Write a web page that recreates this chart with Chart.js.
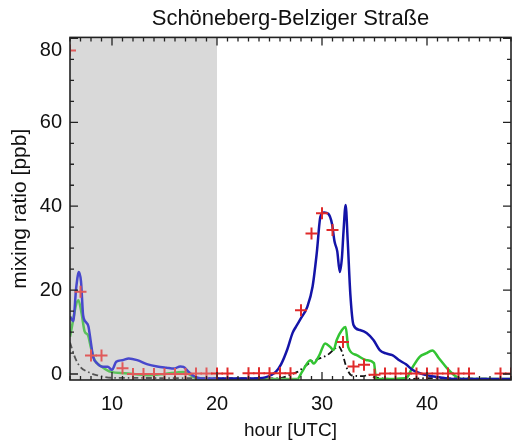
<!DOCTYPE html>
<html>
<head>
<meta charset="utf-8">
<script src="https://cdn.jsdelivr.net/npm/chart.js@4/dist/chart.umd.min.js"></script>
<style>
  body { margin: 0; background: #fff; }
</style>
</head>
<body>
<canvas id="mixingChart" width="519" height="448"></canvas>
<script>
// modelled mixing ratio, main run (blue)
const blueHours  = [6.0, 6.3, 6.6, 6.85, 7.05, 7.25, 7.5, 7.75, 8.0, 8.2, 8.6, 9.1, 9.6, 10.0, 10.4, 11.0, 11.6, 12.4, 13.4, 14.3, 15.2, 15.9, 16.5, 16.8, 17.3, 17.8, 18.5, 20, 22, 24, 24.6, 25.1, 25.6, 26.1, 26.7, 27.2, 27.5, 28.0, 28.6, 29.1, 29.5, 29.85, 30.2, 30.6, 30.95, 31.2, 31.45, 31.7, 31.9, 32.05, 32.25, 32.45, 32.7, 33.0, 33.6, 34.25, 34.9, 35.5, 36.1, 36.7, 37.4, 38.0, 38.6, 39.4, 40.2, 41.5, 42.5, 44, 46, 48];
const blueValues = [13.7, 12.6, 20.8, 24.3, 22.0, 14.0, 12.4, 11.4, 7.3, 4.1, 2.5, 1.7, 1.7, 1.0, 2.9, 3.3, 3.7, 3.3, 2.3, 1.8, 1.5, 1.3, 1.8, 1.7, 0.5, -0.5, -1.05, -1.1, -1.1, -1.0, -0.8, -0.3, 0.5, 2.3, 5.9, 9.8, 11.2, 13.3, 16.0, 20.8, 28.8, 37.5, 38.5, 38.2, 35.8, 31.5, 29.3, 24.3, 27.8, 34.0, 40.3, 31.7, 19.0, 11.7, 10.5, 9.8, 8.1, 5.7, 4.9, 4.5, 3.2, 2.3, 1.0, 0.1, -0.4, -0.9, -1.2, -1.2, -1.2, -1.2];

// second run (green)
const greenHours  = [6.0, 6.8, 7.1, 7.4, 7.7, 8.0, 8.35, 9.0, 9.9, 11.2, 13.4, 15.0, 16.8, 17.5, 18.2, 27.65, 28.1, 28.9, 29.2, 29.75, 30.3, 30.8, 31.1, 31.4, 31.9, 32.25, 32.5, 33.3, 34.25, 34.95, 35.15, 38.0, 38.6, 39.3, 39.9, 40.5, 41.15, 41.9, 42.7, 43.3, 48];
const greenValues = [8.9, 17.6, 14.5, 10.1, 9.3, 6.2, 3.3, 1.8, 0.5, 0.2, -0.3, 0.0, 0.5, -0.3, -1.2, -1.2, 0.5, 3.3, 2.5, 4.5, 7.3, 6.4, 5.7, 8.1, 10.5, 11.2, 6.4, 4.5, 3.3, 2.6, -1.2, -1.0, 1.5, 4.1, 4.9, 5.6, 3.7, 1.4, -0.5, -1.2, -1.2];

// background contribution (black dash-dot)
const blackHours  = [6.0, 6.5, 6.95, 7.7, 8.6, 10, 26, 26.95, 27.65, 28.9, 30.5, 31.6, 31.9, 32.3, 32.8, 33.9, 34.5, 35, 38, 40, 48];
const blackValues = [7.5, 3.8, 1.8, 0.5, -0.3, -0.9, -1.0, -0.2, 0.5, 2.8, 4.5, 6.5, 5.3, 1.8, -0.3, -0.5, -0.2, -0.8, -1.2, -1.0, -1.2];

// hourly measurements (red crosses)
const obsHours  = [6, 7, 8, 9, 11, 12, 13, 14, 15, 16, 17, 18, 19, 20, 21, 23, 24, 25, 26, 27, 28, 29, 30, 31, 32, 33, 34, 35, 36, 37, 38, 39, 40, 41, 42, 43, 44, 47, 48];
const obsValues = [77.1, 19.6, 4.4, 4.4, 1.4, 0.0, 0.0, 0.0, 0.0, 0.0, 0.0, 0.1, 0.1, 0.1, 0.1, 0.2, 0.2, 0.2, 0.2, 0.2, 15.2, 33.5, 38.3, 34.3, 7.6, 1.8, 2.2, -0.2, 0.1, 0.1, 0.1, 0.1, 0.1, 0.1, 0.1, 0.1, 0.1, 0.1, 0.1];

const xTicks = [10, 20, 30, 40];
const yTicks = [0, 20, 40, 60, 80];
const nightStart = 6;
const nightEnd = 20;

const toPoints = (xs, ys) => xs.map((x, i) => ({ x: x, y: ys[i] }));

// paler colour for the parts of a line that run through the night band
const nightColour = (day, night) => (c) => c.p0.parsed.x < nightEnd ? night : day;

// grey band behind the night hours
const nightShade = {
    id: 'nightShade',
    beforeDatasetsDraw(chart) {
        const { ctx, chartArea, scales: { x } } = chart;
        const x0 = x.getPixelForValue(nightStart);
        const x1 = x.getPixelForValue(nightEnd);
        ctx.save();
        ctx.fillStyle = '#d9d9d9';
        ctx.fillRect(x0, chartArea.top, x1 - x0, chartArea.bottom - chartArea.top);
        ctx.restore();
    }
};

// box around the plot with inward tick marks on all four sides
const frameTicks = {
    id: 'frameTicks',
    afterDraw(chart) {
        const { ctx, chartArea: a, scales: { x, y } } = chart;
        ctx.save();
        ctx.strokeStyle = '#222';
        ctx.lineWidth = 1.6;
        ctx.strokeRect(a.left, a.top, a.right - a.left, a.bottom - a.top);
        ctx.lineWidth = 1.3;
        ctx.beginPath();
        for (let h = Math.ceil(x.min); h <= x.max; h++) {
            const px = x.getPixelForValue(h);
            const len = h % 10 === 0 ? 8 : 4;
            ctx.moveTo(px, a.bottom); ctx.lineTo(px, a.bottom - len);
            ctx.moveTo(px, a.top); ctx.lineTo(px, a.top + len);
        }
        for (let v = 0; v <= y.max; v += 5) {
            const py = y.getPixelForValue(v);
            const len = v % 20 === 0 ? 8 : 4;
            ctx.moveTo(a.left, py); ctx.lineTo(a.left + len, py);
            ctx.moveTo(a.right, py); ctx.lineTo(a.right - len, py);
        }
        ctx.stroke();
        ctx.restore();
    }
};

Chart.defaults.font.family = '"Liberation Sans", Arial, sans-serif';
Chart.defaults.color = '#111';

const ctx = document.getElementById('mixingChart').getContext('2d');
const mixingChart = new Chart(ctx, {
    type: 'line',
    data: {
        datasets: [
            {
                label: 'measured',
                data: toPoints(obsHours, obsValues),
                showLine: false,
                pointStyle: 'cross',
                pointRadius: 6,
                pointBorderWidth: 2,
                pointBorderColor: (c) => c.raw && c.raw.x < nightEnd ? '#e05a5a' : '#e02a2a',
                borderColor: '#e02a2a',
                backgroundColor: '#e02a2a'
            },
            {
                label: 'model',
                data: toPoints(blueHours, blueValues),
                borderColor: '#1414a8',
                borderWidth: 2.5,
                pointRadius: 0,
                cubicInterpolationMode: 'monotone',
                segment: { borderColor: nightColour('#1414a8', '#4848cc') }
            },
            {
                label: 'model 2',
                data: toPoints(greenHours, greenValues),
                borderColor: '#33c433',
                borderWidth: 2.5,
                pointRadius: 0,
                cubicInterpolationMode: 'monotone',
                segment: { borderColor: nightColour('#33c433', '#5cc25c') }
            },
            {
                label: 'background',
                data: toPoints(blackHours, blackValues),
                borderColor: '#111',
                borderWidth: 1.8,
                borderDash: [6, 3, 1.5, 3],
                pointRadius: 0,
                cubicInterpolationMode: 'monotone',
                segment: { borderColor: nightColour('#111', '#555') }
            }
        ]
    },
    options: {
        responsive: false,
        animation: false,
        devicePixelRatio: 1,
        layout: { padding: { left: 0, right: 3, top: 0, bottom: 0 } },
        plugins: {
            legend: { display: false },
            tooltip: { enabled: false },
            title: {
                display: true,
                text: 'Schöneberg-Belziger Straße',
                fullSize: false,
                color: '#111',
                font: { size: 22, weight: 'normal' },
                padding: { top: 6, bottom: 5 }
            }
        },
        scales: {
            x: {
                type: 'linear',
                min: 6,
                max: 48,
                grid: { display: false, drawTicks: false },
                border: { display: false },
                afterBuildTicks: (scale) => { scale.ticks = xTicks.map(v => ({ value: v })); },
                afterFit: (scale) => { scale.height = 68; },
                ticks: { font: { size: 20 }, padding: 12, maxRotation: 0 },
                title: {
                    display: true,
                    text: 'hour [UTC]',
                    font: { size: 19 },
                    padding: { top: 0, bottom: 6 }
                }
            },
            y: {
                type: 'linear',
                min: -1.43,
                max: 80.24,
                grid: { display: false, drawTicks: false },
                border: { display: false },
                afterBuildTicks: (scale) => { scale.ticks = yTicks.map(v => ({ value: v })); },
                afterFit: (scale) => { scale.width = 70; },
                ticks: {
                    font: { size: 20 },
                    padding: 8,
                    // top label sits just under the frame
                    callback: (v) => v === 80 ? ['', '80'] : String(v)
                },
                title: {
                    display: true,
                    text: 'mixing ratio [ppb]',
                    font: { size: 21 },
                    padding: { top: 8, bottom: 0 }
                }
            }
        }
    },
    plugins: [nightShade, frameTicks]
});
</script>
</body>
</html>
